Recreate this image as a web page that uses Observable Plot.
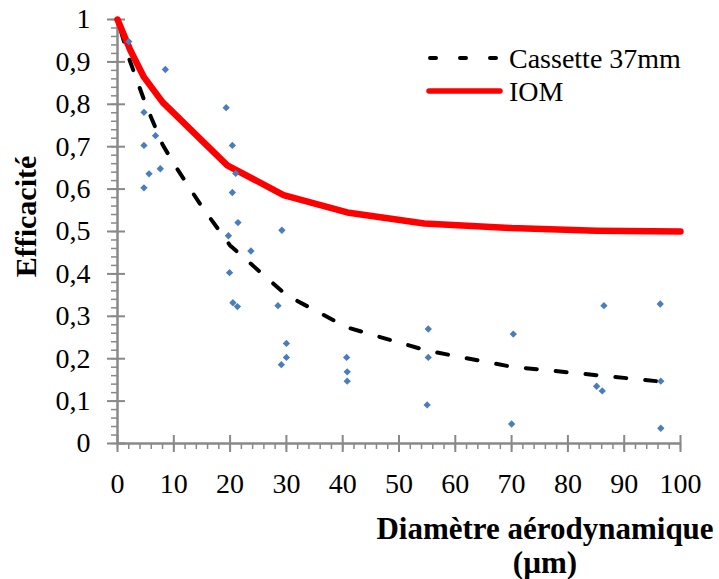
<!DOCTYPE html>
<html><head><meta charset="utf-8">
<script src="https://cdn.jsdelivr.net/npm/d3@7"></script>
<script src="https://cdn.jsdelivr.net/npm/@observablehq/plot@0.6"></script>
<style>
body{margin:0;background:#fff;}
#wrap{position:relative;width:719px;height:579px;overflow:hidden;}
#legend{position:absolute;left:0;top:0;}
</style></head><body><div id="wrap"></div>
<script>
// scatter measurements
const pointX = [2.0, 8.5, 19.3, 4.7, 6.75, 4.7, 20.4, 7.6, 5.6, 21.0, 4.7, 20.4, 21.4, 29.2, 19.7, 23.7, 19.9, 20.5, 21.3, 28.5, 30.0, 30.0, 29.1, 40.7, 40.8, 40.8, 55.2, 55.2, 55.0, 70.3, 70.0, 86.4, 96.4, 85.1, 86.1, 96.5, 96.5];
const pointY = [0.948, 0.882, 0.792, 0.781, 0.726, 0.703, 0.703, 0.648, 0.636, 0.637, 0.603, 0.592, 0.521, 0.503, 0.490, 0.454, 0.403, 0.332, 0.323, 0.325, 0.236, 0.203, 0.186, 0.203, 0.169, 0.147, 0.270, 0.203, 0.091, 0.258, 0.046, 0.325, 0.329, 0.135, 0.124, 0.147, 0.036];
// Cassette 37mm curve
const cassetteX = [0, 2, 5, 8, 10, 15, 20, 30, 40.7, 55, 70, 86, 96.5];
const cassetteY = [1.0, 0.91, 0.80, 0.705, 0.66, 0.558, 0.467, 0.350, 0.274, 0.219, 0.181, 0.160, 0.146];
// IOM curve
const iomX = [0, 2.3, 4.7, 8, 19.5, 29.5, 40.8, 54.5, 70, 85, 100];
const iomY = [1.0, 0.927, 0.864, 0.805, 0.656, 0.586, 0.545, 0.519, 0.508, 0.502, 0.500];
// axes
const xTicks = [0, 10, 20, 30, 40, 50, 60, 70, 80, 90, 100];
const xMinorTicks = d3.range(0, 101, 2);
const yTicks = [0, 0.1, 0.2, 0.3, 0.4, 0.5, 0.6, 0.7, 0.8, 0.9, 1];
const yTickLabels = ["0", "0,1", "0,2", "0,3", "0,4", "0,5", "0,6", "0,7", "0,8", "0,9", "1"];
const yMinorTicks = d3.range(0, 51).map(i => i / 50);
const xTitle = "Diamètre aérodynamique\n(µm)";
const yTitle = "Efficacité";
const seriesNames = ["Cassette 37mm", "IOM"];

const axisColor = "#898989";
const font = "Liberation Serif";

const plot = Plot.plot({
  width: 719, height: 579,
  marginLeft: 117, marginRight: 39, marginTop: 19, marginBottom: 136,
  x: {domain: [0, 100]},
  y: {domain: [0, 1]},
  style: {fontFamily: font, fontSize: "28px", color: "#000", background: "#fff"},
  marks: [
    Plot.axisY({ticks: yMinorTicks, tickSize: 6, text: null, label: null, color: axisColor, strokeWidth: 1.5}),
    Plot.axisY({ticks: yTicks, tickSize: 18, dx: 8, text: null, label: null, color: axisColor, strokeWidth: 2}),
    Plot.axisY({ticks: yTicks, tickSize: 0, tickPadding: 27, label: null, fontSize: 28,
      tickFormat: d => yTickLabels[yTicks.indexOf(d)]}),
    Plot.axisX({ticks: xMinorTicks, tickSize: 6, text: null, label: null, color: axisColor, strokeWidth: 1.5}),
    Plot.axisX({ticks: xTicks, tickSize: 17, dy: -8, text: null, label: null, color: axisColor, strokeWidth: 2}),
    Plot.axisX({ticks: xTicks, tickSize: 0, tickPadding: 30, label: null, fontSize: 28}),
    Plot.ruleX([xTicks[0]], {stroke: axisColor, strokeWidth: 2.5}),
    Plot.ruleY([yTicks[0]], {stroke: axisColor, strokeWidth: 2.5}),
    Plot.line(d3.range(cassetteX.length), {x: i => cassetteX[i], y: i => cassetteY[i],
      stroke: "#000", strokeWidth: 4, strokeDasharray: "11,19", strokeDashoffset: -12, strokeLinecap: "round", strokeLinejoin: "round"}),
    Plot.line(d3.range(iomX.length), {x: i => iomX[i], y: i => iomY[i],
      stroke: "#ff0000", strokeWidth: 6.5, strokeLinecap: "round", strokeLinejoin: "round"}),
    Plot.dot(d3.range(pointX.length), {x: i => pointX[i], y: i => pointY[i],
      symbol: "diamond2", r: 3.3, fill: "#4a7ebb", stroke: null}),
    Plot.text([yTitle], {frameAnchor: "left", textAnchor: "middle", rotate: -90, dx: -91, dy: -15,
      fontWeight: "bold", fontSize: 30, fill: "#000"}),
    Plot.text([xTitle], {frameAnchor: "bottom", textAnchor: "middle", lineAnchor: "top",
      dx: 146, dy: 71, lineHeight: 1.1, fontWeight: "bold", fontSize: 31, fill: "#000"})
  ]
});
const wrap = document.getElementById("wrap");
wrap.appendChild(plot);

// legend overlay
const leg = d3.select(wrap).append("svg").attr("id", "legend")
  .attr("width", 719).attr("height", 579)
  .style("pointer-events", "none");
leg.append("line").attr("x1", 428).attr("x2", 500).attr("y1", 58).attr("y2", 58)
  .attr("stroke", "#000").attr("stroke-width", 4).attr("stroke-dasharray", "6,24").attr("stroke-dashoffset", -2)
  .attr("stroke-linecap", "round");
leg.append("line").attr("x1", 429).attr("x2", 500).attr("y1", 91).attr("y2", 91)
  .attr("stroke", "#ff0000").attr("stroke-width", 5.5).attr("stroke-linecap", "round");
leg.append("text").attr("x", 509).attr("y", 68).text(seriesNames[0])
  .attr("font-family", font).attr("font-size", 28).attr("fill", "#000");
leg.append("text").attr("x", 509).attr("y", 101).text(seriesNames[1])
  .attr("font-family", font).attr("font-size", 28).attr("fill", "#000");
</script>
</body></html>
